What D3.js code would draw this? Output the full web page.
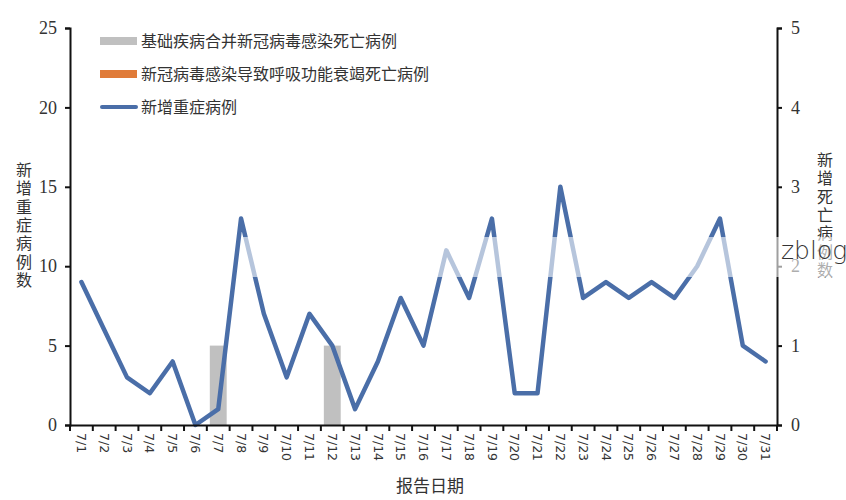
<!DOCTYPE html>
<html>
<head>
<meta charset="utf-8">
<script src="https://cdn.jsdelivr.net/npm/d3@7"></script>
<style>
  body { margin: 0; background: #fff; }
  svg text { fill: #333; }
</style>
</head>
<body>
<div id="chart"></div>
<script>
// report dates, July
const dates = ["7/1","7/2","7/3","7/4","7/5","7/6","7/7","7/8","7/9","7/10","7/11","7/12","7/13","7/14","7/15","7/16",
  "7/17","7/18","7/19","7/20","7/21","7/22","7/23","7/24","7/25","7/26","7/27","7/28","7/29","7/30","7/31"];
// new severe cases (left axis)
const severe = [9,6,3,2,4,0,1,13,7,3,7,5,1,4,8,5,11,8,13,2,2,15,8,9,8,9,8,10,13,5,4];
// deaths with underlying disease (right axis)
const deathsUnderlying = [0,0,0,0,0,0,1,0,0,0,0,1,0,0,0,0,0,0,0,0,0,0,0,0,0,0,0,0,0,0,0];
// deaths from respiratory failure (right axis) - none in this period
const deathsResp = [0,0,0,0,0,0,0,0,0,0,0,0,0,0,0,0,0,0,0,0,0,0,0,0,0,0,0,0,0,0,0];
const leftTicks = [0,5,10,15,20,25];
const rightTicks = [0,1,2,3,4,5];
const legendLabels = ["基础疾病合并新冠病毒感染死亡病例", "新冠病毒感染导致呼吸功能衰竭死亡病例", "新增重症病例"];

const width = 846, height = 500;
const margin = {top: 28, right: 69, bottom: 75, left: 70};

const cjk = "'Noto Sans CJK SC', sans-serif";
const serif = "'Liberation Serif', 'Times New Roman', serif";

const svg = d3.select("#chart").append("svg")
    .attr("width", width)
    .attr("height", height);

const x = d3.scaleBand()
    .domain(dates)
    .range([margin.left, width - margin.right]);

const yL = d3.scaleLinear()
    .domain([0, 25])
    .range([height - margin.bottom, margin.top]);

const yR = d3.scaleLinear()
    .domain([0, 5])
    .range([height - margin.bottom, margin.top]);

// bars (deaths)
const barW = x.bandwidth() * 0.74;
svg.append("g")
  .selectAll("rect")
  .data(dates.map((d, i) => ({d, v: deathsUnderlying[i]})).filter(e => e.v > 0))
  .join("rect")
    .attr("x", e => x(e.d) + (x.bandwidth() - barW) / 2)
    .attr("y", e => yR(e.v))
    .attr("width", barW)
    .attr("height", e => yR(0) - yR(e.v))
    .attr("fill", "#c0c0c0");

svg.append("g")
  .selectAll("rect")
  .data(dates.map((d, i) => ({d, v: deathsResp[i]})).filter(e => e.v > 0))
  .join("rect")
    .attr("x", e => x(e.d) + (x.bandwidth() - barW) / 2)
    .attr("y", e => yR(e.v))
    .attr("width", barW)
    .attr("height", e => yR(0) - yR(e.v))
    .attr("fill", "#e07b39");

// severe cases line
const line = d3.line()
    .x((v, i) => x(dates[i]) + x.bandwidth() / 2)
    .y(v => yL(v));

svg.append("path")
    .datum(severe)
    .attr("fill", "none")
    .attr("stroke", "#4a6ea8")
    .attr("stroke-width", 4.5)
    .attr("stroke-linejoin", "round")
    .attr("stroke-linecap", "round")
    .attr("d", line);

// axes
const axisL = svg.append("g")
    .attr("transform", `translate(${margin.left},0)`)
    .call(d3.axisLeft(yL).tickValues(leftTicks).tickSize(5).tickPadding(8));

const axisR = svg.append("g")
    .attr("transform", `translate(${width - margin.right},0)`)
    .call(d3.axisRight(yR).tickValues(rightTicks).tickFormat(d3.format("d")).tickSize(5).tickPadding(9));

[axisL, axisR].forEach(a => {
  a.select(".domain").attr("stroke", "#111").attr("stroke-width", 2);
  a.selectAll(".tick line").attr("stroke", "#111").attr("stroke-width", 2);
  a.selectAll(".tick text").attr("font-family", serif).attr("font-size", 18).attr("fill", "#222");
});

const axisX = svg.append("g")
    .attr("transform", `translate(0,${height - margin.bottom})`)
    .call(d3.axisBottom(x).tickSize(0).tickPadding(6));
axisX.select(".domain").attr("stroke", "#111").attr("stroke-width", 2);
axisX.selectAll(".tick text")
    .attr("font-family", "'DejaVu Sans', sans-serif")
    .attr("font-size", 12.5)
    .attr("fill", "#333")
    .attr("text-anchor", "start")
    .attr("dy", "0.35em")
    .attr("transform", "translate(0,2) rotate(90)")
    .attr("x", 6)
    .attr("y", 0);

// x ticks at band edges
svg.append("g")
  .selectAll("line")
  .data(dates.concat(["end"]))
  .join("line")
    .attr("x1", (d, i) => margin.left + i * x.bandwidth())
    .attr("x2", (d, i) => margin.left + i * x.bandwidth())
    .attr("y1", height - margin.bottom)
    .attr("y2", height - margin.bottom + 6)
    .attr("stroke", "#111")
    .attr("stroke-width", 2);

// axis titles, stacked vertical characters
function vertical(str, cx, top) {
  svg.append("text")
      .attr("font-family", cjk)
      .attr("font-size", 16)
      .attr("text-anchor", "middle")
    .selectAll("tspan")
    .data(Array.from(str))
    .join("tspan")
      .attr("x", cx)
      .attr("y", (c, i) => top + 14 + i * 18.3)
      .text(c => c);
}
vertical("新增重症病例数", 24, 162);
vertical("新增死亡病例数", 825, 152);

svg.append("text")
    .attr("x", 430)
    .attr("y", 492)
    .attr("text-anchor", "middle")
    .attr("font-family", cjk)
    .attr("font-size", 17)
    .text("报告日期");

// legend
const legend = svg.append("g").attr("font-family", cjk).attr("font-size", 16);
const rowsY = [41, 74, 107];
legend.append("rect").attr("x", 100).attr("y", rowsY[0] - 4).attr("width", 37).attr("height", 8).attr("fill", "#c0c0c0");
legend.append("rect").attr("x", 100).attr("y", rowsY[1] - 4).attr("width", 37).attr("height", 8).attr("fill", "#e07b39");
legend.append("line").attr("x1", 102).attr("x2", 136).attr("y1", rowsY[2]).attr("y2", rowsY[2])
    .attr("stroke", "#4a6ea8").attr("stroke-width", 4).attr("stroke-linecap", "round");
legend.selectAll("text.lg")
  .data(legendLabels)
  .join("text")
    .attr("class", "lg")
    .attr("x", 141)
    .attr("y", (d, i) => rowsY[i])
    .attr("dy", "0.35em")
    .text(d => d);

// watermark band
svg.append("rect")
    .attr("x", 243).attr("y", 237)
    .attr("width", width - 243).attr("height", 40)
    .attr("fill", "#fff").attr("opacity", 0.6);
svg.append("text")
    .attr("x", 781).attr("y", 259)
    .attr("font-family", "'DejaVu Sans', sans-serif")
    .attr("font-weight", 200)
    .attr("font-size", 25)
    .attr("fill", "#222")
    .text("zblog");
</script>
</body>
</html>
